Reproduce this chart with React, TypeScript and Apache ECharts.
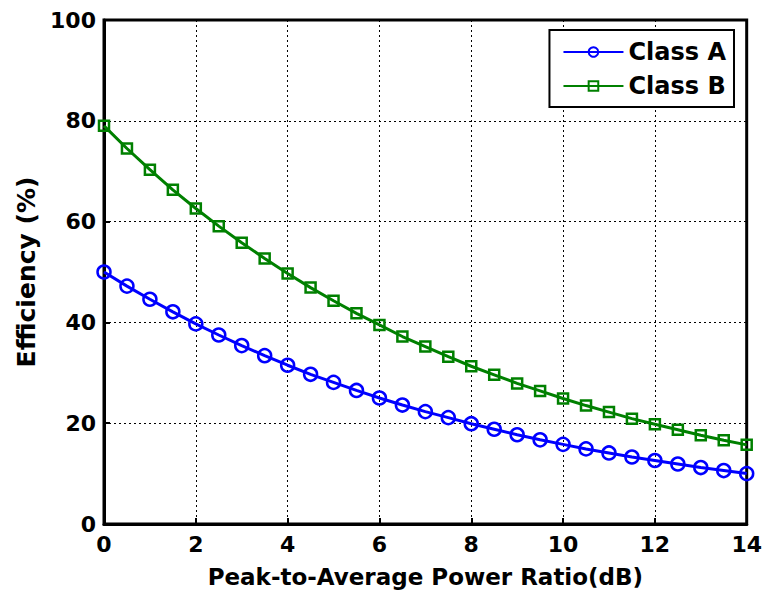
import React, { useEffect, useRef } from "react";
import * as echarts from "echarts";

const xValues = [0, 0.5, 1, 1.5, 2, 2.5, 3, 3.5, 4, 4.5, 5, 5.5, 6, 6.5, 7, 7.5, 8, 8.5, 9, 9.5, 10, 10.5, 11, 11.5, 12, 12.5, 13, 13.5, 14];
const classA = [50, 47.2, 44.6, 42.1, 39.7, 37.5, 35.4, 33.4, 31.5, 29.7, 28.1, 26.5, 25.0, 23.6, 22.3, 21.1, 19.9, 18.8, 17.7, 16.7, 15.8, 14.9, 14.1, 13.3, 12.6, 11.9, 11.2, 10.6, 10.0];
const classB = [79, 74.5, 70.3, 66.3, 62.6, 59.1, 55.8, 52.7, 49.7, 46.9, 44.3, 41.8, 39.5, 37.2, 35.2, 33.2, 31.3, 29.6, 27.9, 26.4, 24.9, 23.5, 22.2, 20.9, 19.8, 18.7, 17.6, 16.6, 15.7];
const xTicks = [0, 2, 4, 6, 8, 10, 12, 14];
const yTicks = [0, 20, 40, 60, 80, 100];

export default function App() {
  const ref = useRef<HTMLDivElement>(null);
  useEffect(() => {
    if (!ref.current) return;
    const chart = echarts.init(ref.current, null, { renderer: "svg" });
    const font = "DejaVu Sans, sans-serif";
    const txt = { fontFamily: font, fontWeight: "bold", fontSize: 22, color: "#000" };
    chart.setOption({
      animation: false,
      backgroundColor: "#fff",
      grid: {
        left: 104,
        right: 17,
        top: 20,
        bottom: 68,
        show: true,
        borderColor: "#000",
        borderWidth: 3,
        backgroundColor: "#fff",
      },
      legend: {
        orient: "vertical",
        right: 31,
        top: 30,
        itemWidth: 60,
        itemHeight: 12,
        itemGap: 10,
        padding: [10, 8, 9, 13],
        borderColor: "#000",
        borderWidth: 2,
        backgroundColor: "#fff",
        textStyle: { ...txt, fontSize: 24 },
        data: ["Class A", "Class B"],
      },
      xAxis: {
        type: "value",
        min: 0,
        max: 14,
        interval: 2,
        name: "Peak-to-Average Power Ratio(dB)",
        nameLocation: "middle",
        nameGap: 41,
        nameTextStyle: { ...txt, fontSize: 23 },
        axisLine: { lineStyle: { color: "#000", width: 3 } },
        axisTick: { inside: true, length: 6, lineStyle: { color: "#000", width: 2 } },
        axisLabel: {
          ...txt,
          margin: 9,
          formatter: (v: number) => (xTicks.includes(v) ? String(v) : ""),
        },
        splitLine: { show: true, lineStyle: { color: "#000", type: [2, 3], width: 1 } },
      },
      yAxis: {
        type: "value",
        min: 0,
        max: 100,
        interval: 20,
        name: "Efficiency (%)",
        nameLocation: "middle",
        nameGap: 62,
        nameTextStyle: { ...txt, fontSize: 25 },
        axisLine: { lineStyle: { color: "#000", width: 3 } },
        axisTick: { inside: true, length: 6, lineStyle: { color: "#000", width: 2 } },
        axisLabel: {
          ...txt,
          margin: 8,
          formatter: (v: number) => (yTicks.includes(v) ? String(v) : ""),
        },
        splitLine: { show: true, lineStyle: { color: "#000", type: [2, 3], width: 1 } },
      },
      series: [
        {
          name: "Class A",
          type: "line",
          data: xValues.map((x, i) => [x, classA[i]]),
          symbol: "circle",
          symbolSize: 13,
          lineStyle: { color: "#0000ff", width: 3 },
          itemStyle: { color: "rgba(255,255,255,0)", borderColor: "#0000ff", borderWidth: 2.5 },
          emphasis: { disabled: true },
        },
        {
          name: "Class B",
          type: "line",
          data: xValues.map((x, i) => [x, classB[i]]),
          symbol: "rect",
          symbolSize: 10,
          lineStyle: { color: "#008000", width: 3 },
          itemStyle: { color: "rgba(255,255,255,0)", borderColor: "#008000", borderWidth: 2.5 },
          emphasis: { disabled: true },
        },
      ],
    });
    return () => chart.dispose();
  }, []);
  return (
    <div
      ref={ref}
      style={{ position: "fixed", left: 0, top: 0, width: 765, height: 593 }}
    />
  );
}
